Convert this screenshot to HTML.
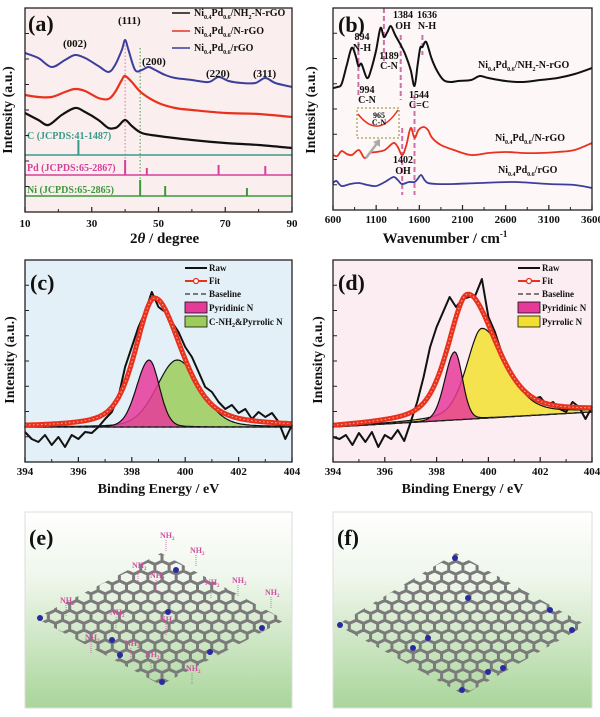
<!DOCTYPE html>
<html><head><meta charset="utf-8">
<style>
html,body{margin:0;padding:0;background:#fff;}
svg{display:block;font-family:"Liberation Serif",serif;font-weight:bold;}
</style></head>
<body>
<svg id="fig" width="600" height="717" viewBox="0 0 600 717" xmlns="http://www.w3.org/2000/svg">
<defs>
<linearGradient id="gbg" x1="0" y1="0" x2="0" y2="1">
<stop offset="0" stop-color="#ffffff"/><stop offset="0.35" stop-color="#eef6ea"/><stop offset="1" stop-color="#a9d59a"/>
</linearGradient>
<clipPath id="clipE"><polygon points="161,553 285,620 161,685 36,618"/></clipPath>
<clipPath id="clipF"><polygon points="456,553 586,625 464,695 337,625"/></clipPath>
</defs>
</svg>
<script>
// ---------- Panel (a) XRD data ----------
const aBlueX=[10,14,18,22,25,28,32,35,37,39,40,41,43,45,47,49,52,55,60,65,68,71,75,79,82,85,90];
const aBlueY=[159,154,145,152,157,154,146,140,147,162,172,162,142,142,145,142,137,134,132,130,135,131,129,129,134,129,125];
const aRedX=[10,14,18,22,25,28,32,35,37,39,40,42,45,50,55,60,70,80,90];
const aRedY=[117,115,115,120,123,121,114,113,120,132,136,130,119,109,104,102,99,98,95];
const aBlackX=[10,14,17,21,25,28,32,35,37,38,40,42,45,50,60,70,80,90];
const aBlackY=[99,92,87,97,104,100,92,84,84,86,92,86,79,76,72,69,67,64];
const cRefX=[26]; const cRefH=[15];
const pdRefX=[40,46.5,68,82]; const pdRefH=[15,7,10,9];
const niRefX=[44.5,52,76.5]; const niRefH=[16,10,8];
const aTicks=[10,30,50,70,90];
// ---------- Panel (b) FTIR data ----------
const bBlackX=[600,650,700,760,816,860,894,930,994,1040,1100,1150,1189,1230,1270,1320,1384,1440,1500,1544,1580,1610,1636,1680,1740,1800,1880,1960,2050,2200,2300,2400,2600,2800,3000,3200,3400,3600];
const bBlackY=[122,123,126,145,162,155,144,146,132,140,160,182,173,178,184,175,165,155,140,124,145,162,163,168,152,140,130,128,129,130,134,132,129,128,130,132,136,142];
const bRedX=[600,650,700,760,820,900,965,1030,1100,1200,1300,1350,1402,1450,1500,1544,1590,1650,1700,1750,1850,2000,2200,2400,2600,2800,3000,3200,3400,3600];
const bRedY=[55,54,59,56,55,60,52,57,58,60,67,63,55,65,82,72,80,83,80,72,65,60,55,57,58,57,57,58,60,67];
const bBlueX=[600,640,700,800,900,1000,1100,1200,1300,1350,1400,1480,1544,1580,1620,1660,1700,1800,2000,2300,2700,3100,3400,3600];
const bBlueY=[27,29,24,26,27,25,24,28,33,30,26,28,28,31,35,30,27,26,26,27,28,26,25,22];
const bTicks=[600,1100,1600,2100,2600,3100,3600];
const bMarkX=[894,1189,1384,1402,1544,1636];
// ---------- Panel (c) XPS data ----------
const cRaw=[-5,-12,-15,-8,-18,-10,-20,-8,-12,-5,-6,0,8,15,30,60,80,100,115,135,120,115,105,95,80,70,55,40,35,25,18,22,14,18,8,15,10,14,5,-12,2];
const cPeakCenter=[398.85,398.65,399.7];
const cPeakHeight=[129,67,67];
const cHwhmL=[0.85,0.55,0.9];
const cHwhmR=[1.2,0.45,1.0];
const cEta=[0.5,0.1,0.2];
const cBase=[0,0];
// ---------- Panel (d) XPS data ----------
const dRaw=[-10,-12,-8,-18,-6,-15,-5,-20,-8,-12,-3,-14,5,25,50,80,100,115,130,120,128,130,132,148,110,95,75,60,50,40,35,28,30,22,25,18,15,25,20,8,20];
const dPeakCenter=[399.2,398.7,399.75];
const dPeakHeight=[125,68,90];
const dHwhmL=[0.9,0.45,0.7];
const dHwhmR=[1.3,0.35,1.1];
const dEta=[0.5,0.1,0.4];
const dBase=[0,15];
const xpsTicks=[394,396,398,400,402,404];

const NS="http://www.w3.org/2000/svg";
const svg=document.getElementById('fig');
function mk(tag,attrs,parent){const e=document.createElementNS(NS,tag);for(const k in attrs)e.setAttribute(k,attrs[k]);(parent||svg).appendChild(e);return e;}
function txt(s,x,y,size,color,anchor,parent){const t=mk('text',{x:x,y:y,'font-size':size,fill:color||'#111','text-anchor':anchor||'start'},parent);t.textContent=s;return t;}
function lin(d0,d1,r0,r1){return v=>r0+(v-d0)/(d1-d0)*(r1-r0);}
function smooth(pts){let d='M'+pts[0][0].toFixed(1)+','+pts[0][1].toFixed(1);
 for(let i=0;i<pts.length-1;i++){const p0=pts[Math.max(0,i-1)],p1=pts[i],p2=pts[i+1],p3=pts[Math.min(pts.length-1,i+2)];
  const c1=[p1[0]+(p2[0]-p0[0])/6,p1[1]+(p2[1]-p0[1])/6],c2=[p2[0]-(p3[0]-p1[0])/6,p2[1]-(p3[1]-p1[1])/6];
  d+='C'+c1[0].toFixed(1)+','+c1[1].toFixed(1)+' '+c2[0].toFixed(1)+','+c2[1].toFixed(1)+' '+p2[0].toFixed(1)+','+p2[1].toFixed(1);}
 return d;}
function polyD(pts){return 'M'+pts.map(p=>p[0].toFixed(1)+','+p[1].toFixed(1)).join('L');}
function frame(x0,y0,x1,y1,bg,name){
 const r=mk('rect',{x:x0,y:y0,width:x1-x0,height:y1-y0,fill:bg,stroke:'none'});
 
 
}
function border(x0,y0,x1,y1,name){
 const r=mk('rect',{x:x0,y:y0,width:x1-x0,height:y1-y0,fill:'none',stroke:'#222','stroke-width':1.3});
 
 
 for(let i=1;i<8;i++){const y=y0+(y1-y0)*i/8;mk('line',{x1:x0,y1:y,x2:x0+4,y2:y,stroke:'#222','stroke-width':1});}
}
function xAxis(ticks,sx,y1,labelY,name){
 const g=mk('g',{});
 
 
 ticks.forEach((t,i)=>{const x=sx(t);mk('line',{x1:x,y1:y1,x2:x,y2:y1-5,stroke:'#222','stroke-width':1.2},g);
  txt(String(t),x,labelY,11,'#111','middle',g);
  if(i<ticks.length-1){const xm=sx((t+ticks[i+1])/2);mk('line',{x1:xm,y1:y1,x2:xm,y2:y1-3,stroke:'#222','stroke-width':1},g);}});
 return g;
}
function yTitle(x,cy,name){const t=txt('Intensity (a.u.)',x,cy,14,'#111','middle');t.setAttribute('transform','rotate(-90 '+x+' '+cy+')');
 
 }
function series(d,color,w,name,dash){const p=mk('path',{d:d,fill:'none',stroke:color,'stroke-width':w,'stroke-linejoin':'round'});if(dash)p.setAttribute('stroke-dasharray',dash);
 
 return p;}
// label like Ni0.4Pd0.6/NH2-N-rGO ; parts: [text, isSub]
function sub(parent,x,y,size,parts){const t=mk('text',{x:x,y:y,'font-size':size,fill:'#111'},parent);
 let low=false;
 parts.forEach(p=>{const s=mk('tspan',{},t);s.textContent=p[0];
  if(p[1]&&!low){s.setAttribute('dy',3);low=true;} else if(!p[1]&&low){s.setAttribute('dy',-3);low=false;}
  if(p[1])s.setAttribute('font-size',size*0.6);});
 return t;}
function niPd(tail){const a=[['Ni',0],['0.4',1],['Pd',0],['0.6',1]];return a.concat(tail);}

// ================= Panel (a) =================
(function(){
 const X0=25,X1=292,Y0=8,Y1=212;
 const sx=lin(10,90,X0,X1), sy=lin(0,204,Y1,Y0);
 frame(X0,Y0,X1,Y1,'#fbeeee','xrd');
 series('M'+sx(40)+','+45+'V175','#e070a0',1,'xrd-111-guide','1.5,2');
 series('M'+sx(44.5)+','+48+'V196','#40a040',1,'xrd-ni-guide','1.5,2');
 series(smooth(aBlueX.map((x,i)=>[sx(x),sy(aBlueY[i])])),'#3b3f9c',2,'xrd-rgo-line');
 series(smooth(aRedX.map((x,i)=>[sx(x),sy(aRedY[i])])),'#e8321e',2.2,'xrd-n-rgo-line');
 series(smooth(aBlackX.map((x,i)=>[sx(x),sy(aBlackY[i])])),'#111',2.2,'xrd-nh2-n-rgo-line');
 const refs=[[cRefX,cRefH,155,'#3a9a8a','c-ref'],[pdRefX,pdRefH,175,'#d6409a','pd-ref'],[niRefX,niRefH,196,'#3a9a3a','ni-ref']];
 refs.forEach(r=>{const g=mk('g',{});
  
  
  mk('line',{x1:X0,y1:r[2],x2:X1,y2:r[2],stroke:r[3],'stroke-width':1.5},g);
  r[0].forEach((x,i)=>mk('line',{x1:sx(x),y1:r[2],x2:sx(x),y2:r[2]-r[1][i],stroke:r[3],'stroke-width':2},g));});
 txt('C (JCPDS:41-1487)',27,139,10,'#3a9a8a');
 txt('Pd (JCPDS:65-2867)',27,171,10,'#d6409a');
 txt('Ni (JCPDS:65-2865)',27,193,10,'#3a9a3a');
 border(X0,Y0,X1,Y1,'xrd');
 xAxis(aTicks,sx,Y1,227,'xrd');
 const at=txt('2',130,243,15,'#111','start');at.innerHTML='2<tspan font-style="italic">θ</tspan> / degree';
 
 
 yTitle(12,110,'xrd');
 txt('(a)',28,31,22,'#111');
 txt('(111)',118,24,11);txt('(002)',63,47,11);txt('(200)',142,65,11);txt('(220)',206,77,11);txt('(311)',253,77,11);
 const lg=mk('g',{});
 
 
 mk('line',{x1:172,y1:13,x2:190,y2:13,stroke:'#111','stroke-width':1.5},lg);
 sub(lg,194,16,10,niPd([['/NH',0],['2',1],['-N-rGO',0]]));
 mk('line',{x1:172,y1:31,x2:190,y2:31,stroke:'#e8321e','stroke-width':1.5},lg);
 sub(lg,194,34,10,niPd([['/N-rGO',0]]));
 mk('line',{x1:172,y1:48,x2:190,y2:48,stroke:'#3b3f9c','stroke-width':1.5},lg);
 sub(lg,194,51,10,niPd([['/rGO',0]]));
})();

// ================= Panel (b) =================
(function(){
 const X0=333,X1=592,Y0=8,Y1=210;
 const sx=lin(600,3600,X0,X1), sy=lin(0,202,Y1,Y0);
 frame(X0,Y0,X1,Y1,'#fdf7f7','ftir');
 const spans={894:[42,98],1189:[8,62],1384:[35,100],1402:[128,195],1544:[95,195],1636:[35,55]};
 bMarkX.forEach(w=>{series('M'+sx(w).toFixed(1)+','+spans[w][0]+'V'+spans[w][1],'#d070a8',2,'ftir-marker-'+w,'5,3');});
 series(smooth(bBlueX.map((x,i)=>[sx(x),sy(bBlueY[i])])),'#3b3f9c',1.8,'ftir-rgo-line');
 series(smooth(bRedX.map((x,i)=>[sx(x),sy(bRedY[i])])),'#e8321e',1.8,'ftir-n-rgo-line');
 series(smooth(bBlackX.map((x,i)=>[sx(x),sy(bBlackY[i])])),'#111',2,'ftir-nh2-n-rgo-line');
 const ig=mk('g',{});
 
 
 mk('rect',{x:357,y:108,width:42,height:30,fill:'none',stroke:'#8a8a30','stroke-width':1,'stroke-dasharray':'2,2'},ig);
 mk('path',{d:'M358,114 Q378,140 398,110',fill:'none',stroke:'#e8321e','stroke-width':1.5},ig);
 mk('path',{d:'M366,158 L378,142',stroke:'#aaa','stroke-width':2.5,fill:'none'},ig);
 mk('path',{d:'M373,142 L380,139 L380,147 Z',fill:'#aaa'},ig);
 border(X0,Y0,X1,Y1,'ftir');
 xAxis(bTicks,sx,Y1,223,'ftir');
 const t=txt('Wavenumber / cm',445,243,15,'#111','middle');const s=mk('tspan',{'font-size':9,dy:-6},t);s.textContent='-1';
 
 
 yTitle(315,110,'ftir');
 txt('(b)',338,32,22,'#111');
 const L=[['894',362,40,10],['N-H',362,51,10],['1384',403,18,10],['OH',403,29,10],['1636',427,18,10],['N-H',427,29,10],['1189',389,59,10],['C-N',389,69,10],['994',367,93,10],['C-N',367,103,10],['1544',419,98,10],['C=C',419,108,10],['1402',403,163,10],['OH',403,174,10],['965',379,118,8],['C-N',379,125,8]];
 L.forEach(l=>txt(l[0],l[1],l[2],l[3],'#111','middle'));
 const t1=sub(svg,478,68,10,niPd([['/NH',0],['2',1],['-N-rGO',0]]));
 
 
 const t2=sub(svg,495,141,10,niPd([['/N-rGO',0]]));
 
 
 const t3=sub(svg,498,173,10,niPd([['/rGO',0]]));
 
 
})();

// ================= XPS helpers =================
function pv(x,c,h,wl,wr,eta){const w=x<c?wl:wr;const d=(x-c)/w;return h*(eta/(1+d*d)+(1-eta)*Math.exp(-Math.LN2*d*d));}
function xpsPanel(o){
 const X0=o.x0,X1=o.x1,Y0=260,Y1=462;
 const sx=lin(394,404,X0,X1), sy=lin(-35,167,Y1,Y0);
 const base=x=>o.base[0]+(x-394)/10*(o.base[1]-o.base[0]);
 frame(X0,Y0,X1,Y1,o.bg,o.name);
 const xs=[];for(let x=394;x<=404.001;x+=0.05)xs.push(x);
 [2,1].forEach(k=>{
  const top=xs.map(x=>[sx(x),sy(base(x)+pv(x,o.c[k],o.h[k],o.wl[k],o.wr[k],o.eta[k]))]);
  const bot=xs.slice().reverse().map(x=>[sx(x),sy(base(x))]);
  const p=mk('path',{d:polyD(top.concat(bot))+'Z',fill:o.fill[k],'fill-opacity':0.85,stroke:'#111','stroke-width':1.2});
  
  
 });
 series(polyD(xs.map(x=>[sx(x),sy(base(x))])),'#333',1,o.name+'-baseline','4,3');
 series(polyD(o.raw.map((v,i)=>[sx(394+i*0.25),sy(v)])),'#111',2,o.name+'-raw-line');
 const fitPts=xs.map(x=>[sx(x),sy(base(x)+pv(x,o.c[0],o.h[0],o.wl[0],o.wr[0],o.eta[0]))]);
 series(polyD(fitPts),'#e8321e',5,o.name+'-fit-line');
 series(polyD(fitPts),'#f7b0a0',1,o.name+'-fit-markers','1.5,2.5');
 border(X0,Y0,X1,Y1,o.name);
 xAxis(xpsTicks,sx,Y1,475,o.name);
 const t=txt('Binding Energy / eV',(X0+X1)/2,493,14,'#111','middle');
 
 
 yTitle(o.x0-11,360,o.name);
 txt(o.label,X0+5,290,22,'#111');
 const g=mk('g',{});
 
 
 const lx=o.lx;
 mk('line',{x1:lx,y1:268,x2:lx+22,y2:268,stroke:'#111','stroke-width':2},g);txt('Raw',lx+24,271,9,'#111','start',g);
 mk('line',{x1:lx,y1:281,x2:lx+22,y2:281,stroke:'#e8321e','stroke-width':2},g);mk('circle',{cx:lx+11,cy:281,r:2.5,fill:'#fff',stroke:'#e8321e','stroke-width':1.3},g);txt('Fit',lx+24,284,9,'#111','start',g);
 mk('line',{x1:lx,y1:294,x2:lx+22,y2:294,stroke:'#333','stroke-width':1.3,'stroke-dasharray':'5,3'},g);txt('Baseline',lx+24,297,9,'#111','start',g);
 mk('rect',{x:lx,y:302,width:22,height:11,fill:o.fill[1],stroke:'#111','stroke-width':0.8},g);txt('Pyridinic N',lx+24,311,9,'#111','start',g);
 mk('rect',{x:lx,y:316,width:22,height:11,fill:o.fill[2],stroke:'#111','stroke-width':0.8},g);
 const t2=txt('',lx+24,325,9,'#111','start',g);t2.innerHTML=o.l2;
}
xpsPanel({x0:25,x1:292,bg:'#e3f0f7',name:'xps-c',label:'(c)',raw:cRaw,c:cPeakCenter,h:cPeakHeight,wl:cHwhmL,wr:cHwhmR,eta:cEta,base:cBase,fill:['','#e63a9a','#9ccc5a'],cname:['fit','pyridinic','pyrrolic'],lx:185,l2:'C-NH<tspan font-size="6" dy="2">2</tspan><tspan dy="-2">&amp;Pyrrolic N</tspan>'});
xpsPanel({x0:333,x1:592,bg:'#fbedf2',name:'xps-d',label:'(d)',raw:dRaw,c:dPeakCenter,h:dPeakHeight,wl:dHwhmL,wr:dHwhmR,eta:dEta,base:dBase,fill:['','#e63a9a','#f2e030'],cname:['fit','pyridinic','pyrrolic'],lx:518,l2:'Pyrrolic N'});

// ================= Panels (e)/(f) graphene sketches =================
function graphene(x0,x1,clip,name,label,blue,nh2){
 const g=mk('g',{});
 
 
 mk('rect',{x:x0,y:512,width:x1-x0,height:196,fill:'url(#gbg)',stroke:'#ddd','stroke-width':1},g);
 const lat=mk('g',{'clip-path':'url(#'+clip+')'},g);
 const r=8.2,w=Math.sqrt(3)*r,vs=1.5*r*0.8;
 let d='';
 for(let row=0;row<16;row++){for(let col=0;col<22;col++){
  const cx=x0-5+col*w+(row%2?w/2:0), cy=548+row*vs;
  for(let k=0;k<6;k++){const a=Math.PI/3*k+Math.PI/6;const px=cx+r*Math.cos(a),py=cy+r*0.8*Math.sin(a);d+=(k?'L':'M')+px.toFixed(1)+','+py.toFixed(1);}
  d+='Z';}}
 mk('path',{d:d,fill:'none',stroke:'#7a7a7a','stroke-width':3},lat);
 blue.forEach(b=>mk('circle',{cx:b[0],cy:b[1],r:3,fill:'#2a2aa0'},g));
 nh2.forEach(n=>{mk('line',{x1:n[0]+6,y1:n[1]+2,x2:n[0]+6,y2:n[1]+14,stroke:'#d050a0','stroke-width':0.8,'stroke-dasharray':'1,1'},g);
  const t=mk('text',{x:n[0],y:n[1],'font-size':8,fill:'#d050a0'},g);t.innerHTML='NH<tspan font-size="5" dy="2">2</tspan>';});
 txt(label,x0+4,545,22,'#111','start',g);
}
graphene(25,292,'clipE','graphene-nh2-illustration','(e)',[[40,618],[176,570],[112,640],[162,682],[262,628],[210,652],[168,612],[120,655]],[[160,538],[190,553],[132,568],[150,578],[60,603],[205,585],[232,583],[265,595],[110,615],[160,622],[85,640],[125,646],[145,657],[186,671]]);
graphene(333,592,'clipF','graphene-n-illustration','(f)',[[455,558],[468,598],[340,625],[413,648],[428,638],[550,610],[572,630],[462,690],[488,672],[503,668]],[]);
</script>
</body></html>
